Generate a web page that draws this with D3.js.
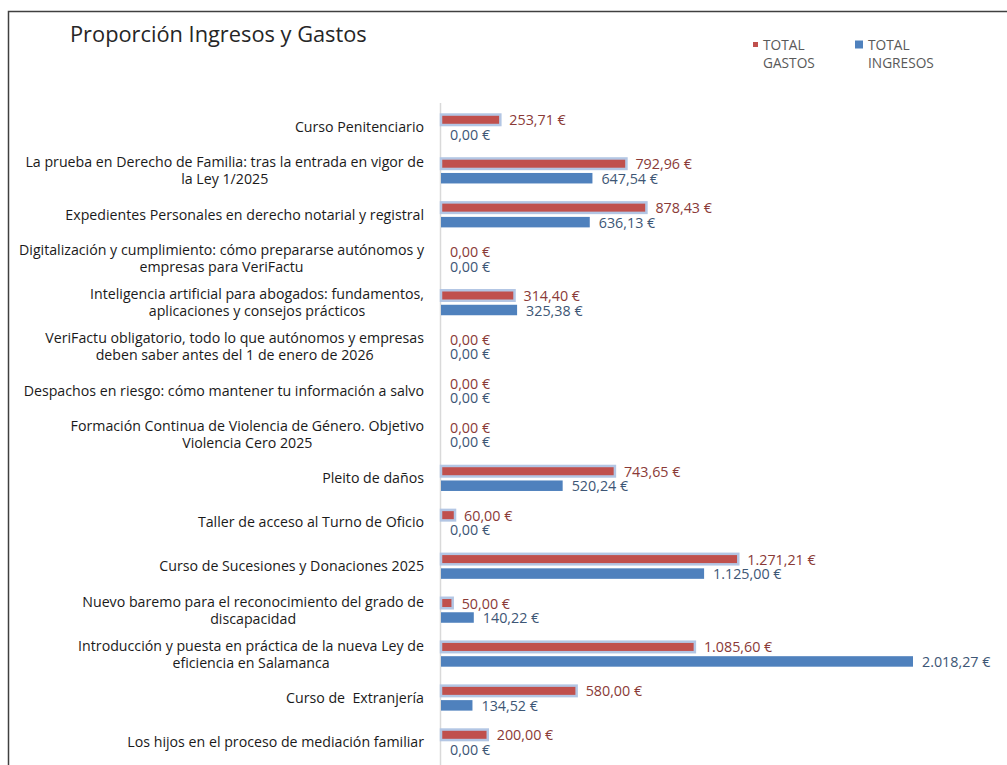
<!DOCTYPE html>
<html>
<head>
<meta charset="utf-8">
<script src="https://cdn.jsdelivr.net/npm/d3@7"></script>
<style>
  body { margin: 0; background: #fff; }
  svg { display: block; font-family: "Open Sans", "Noto Sans", sans-serif; }
</style>
</head>
<body>
<div id="chart"></div>
<script>
// categories (line breaks as in the original chart)
const categories = [
  "Curso Penitenciario",
  "La prueba en Derecho de Familia: tras la entrada en vigor de\nla Ley 1/2025",
  "Expedientes Personales en derecho notarial y registral",
  "Digitalización y cumplimiento: cómo prepararse autónomos y\nempresas para VeriFactu",
  "Inteligencia artificial para abogados: fundamentos,\naplicaciones y consejos prácticos",
  "VeriFactu obligatorio, todo lo que autónomos y empresas\ndeben saber antes del 1 de enero de 2026",
  "Despachos en riesgo: cómo mantener tu información a salvo",
  "Formación Continua de Violencia de Género. Objetivo\nViolencia Cero 2025",
  "Pleito de daños",
  "Taller de acceso al Turno de Oficio",
  "Curso de Sucesiones y Donaciones 2025",
  "Nuevo baremo para el reconocimiento del grado de\ndiscapacidad",
  "Introducción y puesta en práctica de la nueva Ley de\neficiencia en Salamanca",
  "Curso de  Extranjería",
  "Los hijos en el proceso de mediación familiar"
];
const gastos = [253.71, 792.96, 878.43, 0, 314.40, 0, 0, 0, 743.65, 60.00, 1271.21, 50.00, 1085.60, 580.00, 200.00];
const ingresos = [0, 647.54, 636.13, 0, 325.38, 0, 0, 0, 520.24, 0, 1125.00, 140.22, 2018.27, 134.52, 0];
const seriesNames = ["TOTAL GASTOS", "TOTAL INGRESOS"];
const seriesKeys = ["gastos", "ingresos"];

const width = 1007, height = 765;
const colors = { gastos: "#C0504D", ingresos: "#4F81BD" };
const labelColors = { gastos: "#8a3a37", ingresos: "#3d5675" };

const svg = d3.select("#chart").append("svg")
    .attr("width", width)
    .attr("height", height);

// chart frame (runs off the right and bottom of the picture)
svg.append("rect")
    .attr("x", 8.5).attr("y", 11.5)
    .attr("width", 1010).attr("height", 800)
    .attr("fill", "none")
    .attr("stroke", "#404040")
    .attr("stroke-width", 1.5);

// title
svg.append("text")
    .attr("x", 70).attr("y", 42)
    .style("font-size", "21.8px")
    .attr("fill", "#262626")
    .text("Proporción Ingresos y Gastos");

const data = categories.map((c, i) => ({ cat: c, gastos: gastos[i], ingresos: ingresos[i] }));

// scales
const y0 = d3.scaleBand()
    .domain(categories)
    .range([95.6, 95.6 + 43.93 * 15.431])
    .paddingInner(0.431)
    .paddingOuter(0.431);

const y1 = d3.scaleBand()
    .domain(seriesKeys)
    .range([0, y0.bandwidth()])
    .paddingInner(0.276);

const x = d3.scaleLinear()
    .domain([0, d3.max(ingresos)])
    .range([441, 913]);

// vertical category axis line
svg.append("line")
    .attr("x1", 440.5).attr("x2", 440.5)
    .attr("y1", 103).attr("y2", height)
    .attr("stroke", "#d9d9d9")
    .attr("stroke-width", 1.5);

const groups = svg.selectAll(".grp")
    .data(data)
    .enter().append("g")
    .attr("class", "grp")
    .attr("transform", d => "translate(0," + y0(d.cat) + ")");

// bars + value labels
seriesKeys.forEach(k => {
    groups.filter(d => d[k] > 0)
        .append("rect")
        .attr("x", x(0))
        .attr("y", y1(k))
        .attr("width", d => x(d[k]) - x(0))
        .attr("height", y1.bandwidth())
        .attr("fill", colors[k])
        .attr("stroke", k === "gastos" ? "#b3c6e4" : "none")
        .attr("stroke-width", 2.5);

    groups.append("text")
        .attr("x", d => x(d[k]) + 9)
        .attr("y", y1(k) + y1.bandwidth() / 2 + 0.5)
        .attr("dy", "0.35em")
        .style("font-size", "14.3px")
        .attr("fill", labelColors[k])
        .text(d => d3.format(",.2f")(d[k]).replace(/,/g, "#").replace(".", ",").replace(/#/g, ".") + " €");
});

// category labels: lines centered on each other, block right-aligned
const labelRight = 424;
groups.each(function(d) {
    const g = d3.select(this);
    const lines = d.cat.split("\n");
    const t = g.append("text")
        .style("font-size", "14.2px")
        .style("white-space", "pre")
        .attr("fill", "#1a1a1a")
        .attr("text-anchor", "middle");
    const mid = y0.bandwidth() / 2;
    const lh = 17;
    const spans = lines.map((l, i) => t.append("tspan")
        .attr("y", mid + (i - (lines.length - 1) / 2) * lh)
        .attr("dy", "0.35em")
        .text(l));
    const maxW = d3.max(spans, s => s.node().getComputedTextLength());
    spans.forEach(s => s.attr("x", labelRight - maxW / 2));
});

// legend
const legend = [
    { key: "gastos", x: 753, size: 5, y: 42, tx: 763 },
    { key: "ingresos", x: 855, size: 8, y: 40.5, tx: 868 }
];
legend.forEach((l, i) => {
    svg.append("rect")
        .attr("x", l.x).attr("y", l.y)
        .attr("width", l.size).attr("height", l.size)
        .attr("fill", colors[l.key]);
    seriesNames[i].split(" ").forEach((w, j) => {
        svg.append("text")
            .attr("x", l.tx)
            .attr("y", 50 + j * 18)
            .style("font-size", "13.7px")
            .attr("fill", "#595959")
            .text(w);
    });
});
</script>
</body>
</html>
